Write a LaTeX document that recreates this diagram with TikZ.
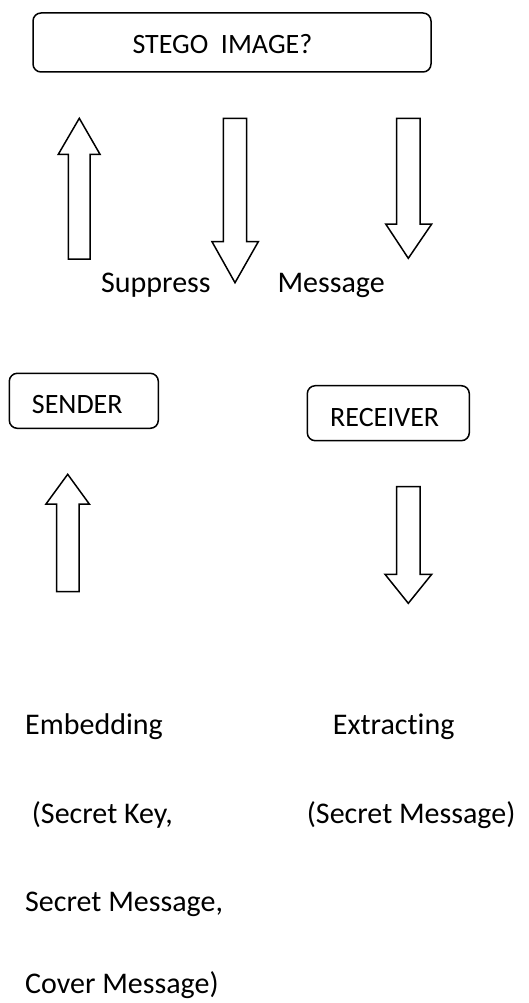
\documentclass[tikz,border=0pt]{standalone}
\usepackage{fontspec}
\setmainfont{Carlito}[Ligatures=NoCommon]
\begin{document}
\begin{tikzpicture}[x=1pt,y=-1pt,
  box/.style={draw, line width=1.5pt, rounded corners=8pt, inner sep=0pt},
  boxtext/.style={anchor=base west, inner sep=0pt, font=\fontsize{28}{30}\selectfont},
  plaintext/.style={anchor=base west, inner sep=0pt, font=\fontsize{30}{32}\selectfont},
  blockarrow/.style={draw, line width=1.5pt, line join=miter, fill=white}]
\useasboundingbox (0,0) rectangle (529,1003);

% boxes
\node[box, minimum width=398pt, minimum height=59pt] (stego) at (232,42.5) {};
\node[boxtext] (stegotxt) at (132.3,53.3) {STEGO~~IMAGE?};

\node[box, minimum width=149pt, minimum height=55pt] (sender) at (83.8,400.8) {};
\node[boxtext] (sendertxt) at (31.7,413.3) {SENDER};

\node[box, minimum width=162pt, minimum height=55pt] (receiver) at (388.3,413.2) {};
\node[boxtext] (receivertxt) at (330,426) {RECEIVER};

% block arrows
\draw[blockarrow] (68.3,259) -- (68.3,154.3) -- (58.3,154.3) -- (79.3,118.3) -- (100,154.3) -- (90,154.3) -- (90,259) -- cycle;
\draw[blockarrow] (223.3,118.3) -- (223.3,241.7) -- (212,241.7) -- (235,282.7) -- (258.3,241.7) -- (246.7,241.7) -- (246.7,118.3) -- cycle;
\draw[blockarrow] (396.7,118.3) -- (396.7,224) -- (385.7,224) -- (408.3,258.3) -- (431.7,224) -- (420,224) -- (420,118.3) -- cycle;
\draw[blockarrow] (56.7,591.7) -- (56.7,504) -- (46,504) -- (67.7,474.3) -- (89.3,504) -- (79,504) -- (79,591.7) -- cycle;
\draw[blockarrow] (396.7,486.7) -- (396.7,574.3) -- (385,574.3) -- (408.3,603.3) -- (431.7,574.3) -- (420,574.3) -- (420,486.7) -- cycle;

% texts
\node[plaintext] (suppress) at (101,292.7) {Suppress};
\node[plaintext] (message) at (277.3,292.7) {Message};
\node[plaintext] (embed) at (25,734.3) {Embedding};
\node[plaintext] (extract) at (332.7,734.3) {Extracting};
\node[plaintext] (key) at (31.7,823.3) {(Secret Key,};
\node[plaintext] (secmsg) at (306.7,823.3) {(Secret Message)};
\node[plaintext] (secmsg2) at (25,911) {Secret Message,};
\node[plaintext] (cover) at (25,993.3) {Cover Message)};
\end{tikzpicture}
\end{document}
